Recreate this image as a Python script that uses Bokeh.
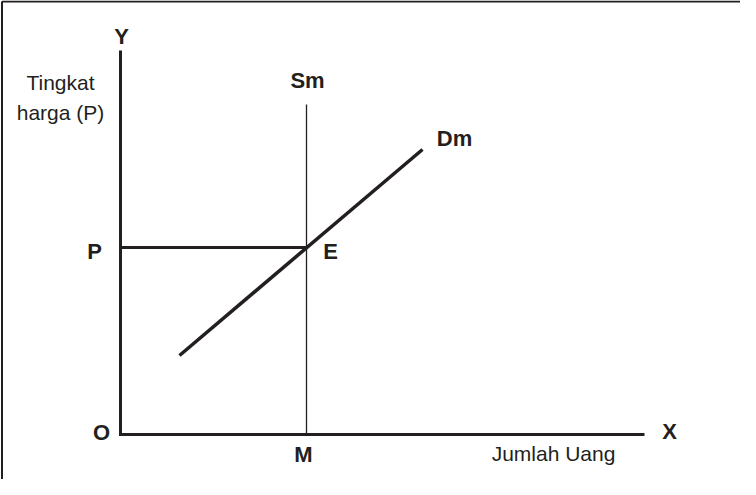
from bokeh.plotting import figure
from bokeh.models import Range1d
from bokeh.core.properties import value
from bokeh.embed import file_html
from bokeh.resources import INLINE

# ---- data (chart units: origin O at the axes corner) ----
x_axis_end = 524          # length of the X axis (Jumlah Uang)
y_axis_end = 384          # height of the Y axis (Tingkat harga)
M_qty = 186               # money supply quantity M (Sm vertical)
P_level = 187             # equilibrium price level P
Sm_top = 330              # top of money supply line
Dm_x = [59, 302]          # money demand line endpoints (x)
Dm_y = [79, 285]          # money demand line endpoints (y)

axis_names = ["O", "X", "Y"]
curve_names = ["Sm", "Dm", "E"]
level_names = ["P", "M"]
y_title = ["Tingkat", "harga (P)"]
x_title = ["Jumlah Uang"]

INK = "#231f20"
dy = 8.5  # baseline correction for text

p = figure(width=740, height=479, output_backend="svg", toolbar_location=None,
           x_range=Range1d(-120, 620), y_range=Range1d(-45, 434), min_border=0)
p.axis.visible = False
p.xgrid.visible = False
p.ygrid.visible = False
p.outline_line_color = None
p.background_fill_color = "white"
p.border_fill_color = "white"

# frame lines (top and left only)
p.line([-118.5, 620], [433, 433], line_color=INK, line_width=2)
p.line([-118.5, -118.5], [433, -45], line_color=INK, line_width=2)

# axes
p.line([0, 0, x_axis_end], [y_axis_end, 0, 0], line_color=INK, line_width=3,
       line_join="miter")
# Sm
p.line([M_qty, M_qty], [0, Sm_top], line_color=INK, line_width=1.3)
# P level
p.line([0, M_qty], [P_level, P_level], line_color=INK, line_width=3)
# Dm
p.line(Dm_x, Dm_y, line_color=INK, line_width=3.5)

bold = dict(text_font=value("Liberation Sans"), text_font_style="bold",
            text_font_size="22px", text_color=INK, text_align="center",
            text_baseline="alphabetic")
reg = dict(text_font=value("Liberation Sans"), text_font_style="normal",
           text_font_size="21px", text_color=INK, text_align="center",
           text_baseline="alphabetic")

# axis letters
p.text(x=[-19, x_axis_end + 25, 1], y=[-6 + dy, -5 + dy, y_axis_end + 6 + dy],
       text=axis_names, **bold)
# curve labels
p.text(x=[M_qty + 1, Dm_x[1] + 32, M_qty + 24],
       y=[Sm_top + 16 + dy, Dm_y[1] + 3 + dy, P_level - 12 + dy],
       text=curve_names, **bold)
# level labels
p.text(x=[-26, M_qty - 3], y=[P_level - 12 + dy, -28 + dy], text=level_names, **bold)
# titles
p.text(x=[-60, -60], y=[344 + dy, 314 + dy], text=y_title, **reg)
p.text(x=[433], y=[-27 + dy], text=x_title, **reg)

open("out.html", "w").write(file_html(p, INLINE))
